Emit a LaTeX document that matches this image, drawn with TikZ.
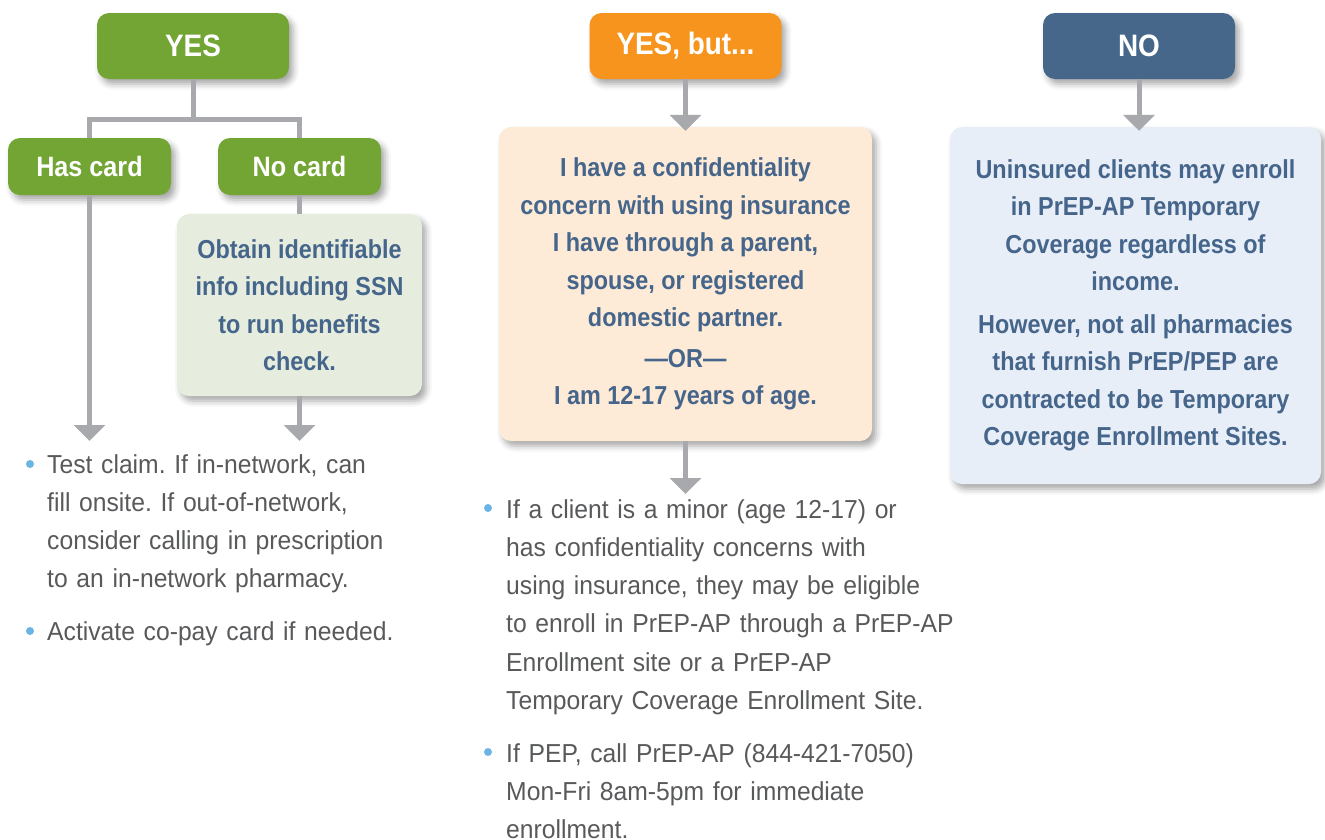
\documentclass[tikz,border=0pt]{standalone}
\usepackage{fontspec}
\setmainfont{Liberation Sans}
\newfontfamily\regfont{Liberation Sans}[FakeStretch=0.95]
\newfontfamily\boldfont{Liberation Sans}[FakeStretch=0.90]
\newfontfamily\headfont{Liberation Sans}[FakeStretch=0.90]
\usetikzlibrary{arrows.meta,shadows.blur}
\frenchspacing

\definecolor{yesgreen}{HTML}{72A533}
\definecolor{butorange}{HTML}{F7941D}
\definecolor{nonavy}{HTML}{46678A}
\definecolor{connc}{HTML}{A7A9AC}
\definecolor{greenfill}{HTML}{E6EDDF}
\definecolor{peachfill}{HTML}{FDEAD7}
\definecolor{bluefill}{HTML}{E8EEF8}
\definecolor{boxtext}{HTML}{45658A}
\definecolor{bodyc}{HTML}{58595B}
\definecolor{bulletc}{HTML}{6BB3E3}

\tikzset{
  softshadow/.style={blur shadow={shadow xshift=4pt, shadow yshift=-5pt,
      shadow blur radius=6pt, shadow opacity=35}},
  hdr/.style={rounded corners=12pt, minimum width=192pt, minimum height=66pt,
      inner sep=0pt, text=white, softshadow,
      font=\headfont\bfseries\fontsize{31}{36}\selectfont},
  subhdr/.style={hdr, fill=yesgreen, minimum width=163pt, minimum height=57pt,
      font=\headfont\bfseries\fontsize{28}{34}\selectfont},
  cbox/.style={rounded corners=12pt, inner sep=0pt, align=center, text=boxtext,
      softshadow, font=\boldfont\bfseries\fontsize{26}{37.5}\selectfont},
  conn/.style={draw=connc, line width=5pt},
  arr/.style={conn, -{Triangle[width=31pt,length=16pt]}},
  btxt/.style={anchor=base west, text width=460pt, align=left, inner sep=0pt,
      text=bodyc, font=\regfont\fontsize{26}{38.3}\selectfont},
  dot/.style={circle, fill=bulletc, minimum size=8pt, inner sep=0pt}
}

\begin{document}
\begin{tikzpicture}[x=1pt,y=-1pt]
\useasboundingbox (0,0) rectangle (1325,839);

% ---- YES column ----
\node[hdr, fill=yesgreen] (yes) at (193,46) {YES};
\node[subhdr] (has) at (89.5,166.5) {Has card};
\node[subhdr] (no) at (299.5,166.5) {No card};
\node[cbox, fill=greenfill, minimum width=245pt, minimum height=182pt] (obt) at (299.5,305)
  {Obtain identifiable\\ info including SSN\\ to run benefits\\ check.};
\coordinate (hasend) at (89.5,441);
\coordinate (noend) at (299.5,441);

\draw[conn] (yes.south) -- ++(0,40) -| (has.north);
\draw[conn] (yes.south) -- ++(0,40) -| (no.north);
\draw[arr] (has.south) -- (hasend);
\draw[conn] (no.south) -- (obt.north);
\draw[arr] (obt.south) -- (noend);

\node[dot] (b1) at (30,464) {};
\node[btxt] (t1) at (47,473) {Test claim. If in-network, can\\ fill onsite. If out-of-network,\\ consider calling in prescription\\ to an in-network pharmacy.};
\node[dot] (b2) at (30,631) {};
\node[btxt] (t2) at (47,640) {Activate co-pay card if needed.};

% ---- YES, but... column ----
\node[hdr, fill=butorange] (but) at (685.5,46) {YES, but...};
\node[cbox, fill=peachfill, minimum width=373pt, minimum height=314pt] (conf) at (685.5,284)
  {I have a confidentiality\\ concern with using insurance\\ I have through a parent,\\ spouse, or registered\\ domestic partner.\\[3pt] —OR—\\ I am 12-17 years of age.};
\coordinate (butend) at (685.5,494);
\draw[arr] (but.south) -- ([yshift=-4pt]conf.north);
\draw[arr] (conf.south) -- (butend);

\node[dot] (b3) at (488,508) {};
\node[btxt] (t3) at (506,518) {If a client is a minor (age 12-17) or\\ has confidentiality concerns with\\ using insurance, they may be eligible\\ to enroll in PrEP-AP through a PrEP-AP\\ Enrollment site or a PrEP-AP\\ Temporary Coverage Enrollment Site.};
\node[dot] (b4) at (488,752) {};
\node[btxt] (t4) at (506,762) {If PEP, call PrEP-AP (844-421-7050)\\ Mon-Fri 8am-5pm for immediate\\ enrollment.};

% ---- NO column ----
\node[hdr, fill=nonavy] (nohdr) at (1139,46) {NO};
\node[cbox, fill=bluefill, minimum width=371pt, minimum height=357pt] (unins) at (1135.5,305.5)
  {Uninsured clients may enroll\\ in PrEP-AP Temporary\\ Coverage regardless of\\ income.\\[5pt] However, not all pharmacies\\ that furnish PrEP/PEP are\\ contracted to be Temporary\\ Coverage Enrollment Sites.};
\draw[arr] (nohdr.south) -- ([yshift=-4pt]nohdr.south |- unins.north);
\end{tikzpicture}
\end{document}
